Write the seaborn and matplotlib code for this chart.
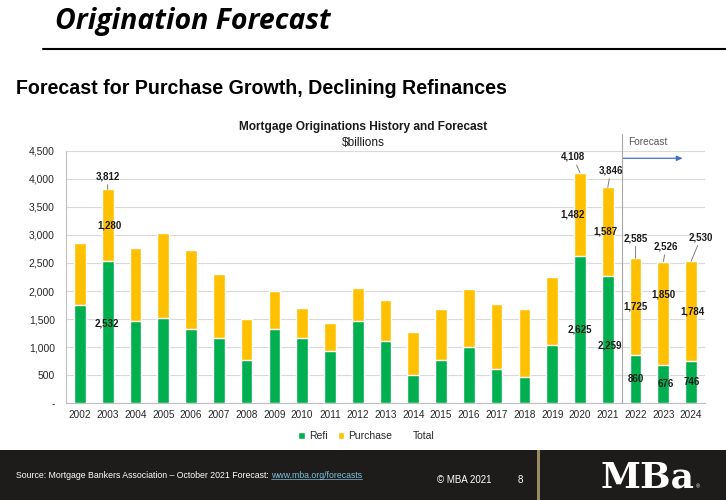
import matplotlib
matplotlib.use("Agg")
import matplotlib.pyplot as plt
import seaborn as sns
import pandas as pd
from matplotlib.patches import Patch, Rectangle
from matplotlib.lines import Line2D
from matplotlib.ticker import FuncFormatter, FixedLocator, MultipleLocator

# data ($ billions)
years = ["2002", "2003", "2004", "2005", "2006", "2007", "2008", "2009", "2010", "2011", "2012",
         "2013", "2014", "2015", "2016", "2017", "2018", "2019", "2020", "2021", "2022", "2023", "2024"]
refi = [1750, 2532, 1460, 1515, 1325, 1160, 770, 1325, 1160, 930, 1460,
        1115, 500, 775, 1000, 615, 470, 1030, 2625, 2259, 860, 676, 746]
purchase = [1100, 1280, 1310, 1510, 1400, 1140, 735, 670, 535, 505, 590,
            730, 765, 905, 1045, 1150, 1210, 1225, 1482, 1587, 1725, 1850, 1784]
total_labels = {"2003": 3812, "2020": 4108, "2021": 3846, "2022": 2585, "2023": 2526, "2024": 2530}
forecast_start = "2022"

GREEN = "#00B050"
YELLOW = "#FFC000"

# label nudges in pixels (dx, dy), tuned by eye
total_off = {"2003": (0, 13), "2020": (-7, 16), "2021": (3, 17), "2022": (0, 20), "2023": (3, 15), "2024": (10, 24)}
purch_off = {"2003": (2, 0), "2020": (-7, 0), "2021": (-2, 0), "2022": (0, 0), "2023": (0, 19), "2024": (1, 0)}
refi_off = {"2003": (-1, 9), "2020": (0, 0), "2021": (2, -6), "2022": (0, 0), "2023": (2, 0), "2024": (1, 0)}

df = pd.DataFrame({"year": years, "refi": refi, "purchase": purchase})
df["total"] = df["refi"] + df["purchase"]

sns.set_style("white")
plt.rcParams["font.family"] = ["Liberation Sans", "DejaVu Sans"]

W, H = 726, 500
fig = plt.figure(figsize=(W / 100, H / 100), dpi=100)
ax = fig.add_axes([66 / W, 1 - 403.3 / H, (705 - 66) / W, (403.3 - 150.7) / H])

sns.barplot(data=df, x="year", y="total", color=YELLOW, saturation=1, width=0.42, ax=ax, zorder=2)
sns.barplot(data=df, x="year", y="refi", color=GREEN, saturation=1, width=0.42, ax=ax, zorder=3)

ax.set_xlim(-0.5, len(years) - 0.5)
ax.set_ylim(0, 4500)
ax.yaxis.set_major_locator(MultipleLocator(500))
ax.yaxis.set_major_formatter(FuncFormatter(lambda v, p: "-" if v == 0 else f"{v:,.0f}"))
ax.grid(axis="y", color="#D9D9D9", lw=0.8, zorder=0)
ax.set_axisbelow(True)
ax.set_xlabel("")
ax.set_ylabel("")
for s in ["top", "right"]:
    ax.spines[s].set_visible(False)
for s in ["left", "bottom"]:
    ax.spines[s].set_color("#BFBFBF")
    ax.spines[s].set_linewidth(0.8)
ax.tick_params(axis="y", length=0, pad=8, labelsize=7.5, labelcolor="#262626")
ax.tick_params(axis="x", which="major", length=0, pad=5, labelsize=7.2, labelcolor="#262626")
ax.xaxis.set_minor_locator(FixedLocator([k - 0.5 for k in range(len(years) + 1)]))
ax.tick_params(axis="x", which="minor", length=4, color="#BFBFBF", width=0.8)

# data labels
lab_kw = dict(ha="center", va="center", fontsize=7, fontweight="bold", color="#1a1a1a",
              textcoords="offset pixels", zorder=5)
for i, y in enumerate(years):
    if y not in total_labels:
        continue
    r, p = refi[i], purchase[i]
    dx, dy = total_off[y]
    ax.annotate(f"{total_labels[y]:,}", xy=(i, r + p), xytext=(dx, dy), annotation_clip=False,
                arrowprops=dict(arrowstyle="-", color="#7F7F7F", lw=0.7, shrinkA=0, shrinkB=0), **lab_kw)
    dx, dy = purch_off[y]
    ax.annotate(f"{p:,}", xy=(i, r + p / 2), xytext=(dx, dy), **lab_kw)
    dx, dy = refi_off[y]
    ax.annotate(f"{r:,}", xy=(i, r / 2), xytext=(dx, dy), **lab_kw)

# forecast divider + arrow
fx = years.index(forecast_start) - 0.5
ax.plot([fx, fx], [0, 4800], color="#A6A6A6", lw=0.8, clip_on=False, zorder=4)
ax.text(fx + 0.25, 4660, "Forecast", fontsize=7.3, color="#595959", va="center", ha="left")
ax.annotate("", xy=(fx + 2.2, 4365), xytext=(fx + 0.05, 4365), annotation_clip=False,
            arrowprops=dict(arrowstyle="-|>,head_length=0.35,head_width=0.15", color="#4472C4", lw=0.9,
                            shrinkA=0, shrinkB=0))

# legend
handles = [Patch(facecolor=GREEN), Patch(facecolor=YELLOW), Line2D([], [], linestyle="none")]
fig.legend(handles, ["Refi", "Purchase", "Total"], loc="center", bbox_to_anchor=(0.505, 1 - 436 / H),
           ncol=3, frameon=False, fontsize=7.5, handlelength=0.6, handleheight=0.6,
           handletextpad=0.4, columnspacing=1.0)

# chart titles
fig.text(0.5, 1 - 127 / H, "Mortgage Originations History and Forecast", ha="center", va="center",
         fontsize=8.6, fontweight="bold", color="#1a1a1a")
fig.text(0.5, 1 - 143 / H, "$billions", ha="center", va="center", fontsize=8.6, color="#1a1a1a")

# slide header
fig.text(55 / W, 1 - 28.5 / H, "Origination Forecast", ha="left", va="baseline", fontsize=20.5,
         fontweight="bold", fontstyle="italic", family=["Open Sans", "Lato", "DejaVu Sans"], color="black")
fig.add_artist(Line2D([43 / W, 1], [1 - 49 / H, 1 - 49 / H], color="black", lw=1.5))
t2 = fig.text(16 / W, 1 - 89 / H, "Forecast for Purchase Growth, Declining Refinances", ha="left",
              va="center", fontsize=13, fontweight="bold", color="black")

# footer band
fig.add_artist(Rectangle((0, 0), 1, 50 / H, transform=fig.transFigure, facecolor="#1E1B1B",
                         edgecolor="none", zorder=0))
fig.add_artist(Rectangle((537 / W, 0), 3 / W, 50 / H, transform=fig.transFigure, facecolor="#9C8A62",
                         edgecolor="none", zorder=1))
src = fig.text(16 / W, 1 - 475 / H, "Source: Mortgage Bankers Association \u2013 October 2021 Forecast: ",
               ha="left", va="center", fontsize=5.4, color="white")
fig.text(437 / W, 1 - 480 / H, "\u00a9 MBA 2021", ha="left", va="center", fontsize=7, color="white")
fig.text(518 / W, 1 - 480 / H, "8", ha="left", va="center", fontsize=7, color="white")
logo = fig.text(601 / W, 1 - 487 / H, "MBa", ha="left", va="baseline", fontsize=26, fontweight="bold",
                family="DejaVu Serif", color="white")

# fit a few texts to their measured widths on the slide
fig.canvas.draw()
renderer = fig.canvas.get_renderer()


def fit_width(t, target_px):
    w = t.get_window_extent(renderer).width
    t.set_fontsize(t.get_fontsize() * target_px / w)


fit_width(t2, 490)
fit_width(src, 258)
fig.canvas.draw()
lg = logo.get_window_extent(renderer)
fig.text((lg.x1 + 1) / W, 1 - 487 / H, "\u00ae", ha="left", va="center", fontsize=4, color="white")
bb = src.get_window_extent(renderer)
link = fig.text(bb.x1 / W, 1 - 475 / H, "www.mba.org/forecasts", ha="left", va="center",
                fontsize=src.get_fontsize(), color="#7CC3DB")
fig.canvas.draw()
lb = link.get_window_extent(renderer)
fig.add_artist(Line2D([lb.x0 / W, lb.x1 / W], [(lb.y0 + 0.5) / H] * 2, color="#7CC3DB", lw=0.5))

fig.savefig("out.png", dpi=100)
